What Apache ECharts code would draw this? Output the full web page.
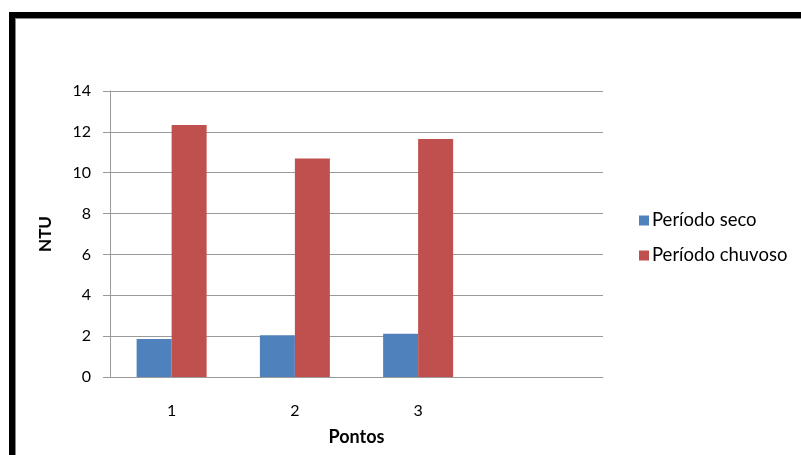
<!DOCTYPE html>
<html>
<head>
<meta charset="utf-8">
<script src="https://cdn.jsdelivr.net/npm/echarts@6/dist/echarts.min.js"></script>
<style>
html,body{margin:0;padding:0;background:#fff;}
#wrap{position:relative;width:801px;height:455px;overflow:hidden;}
#chart{position:absolute;left:0;top:0;width:801px;height:455px;}
#frame{position:absolute;left:9px;top:12px;width:900px;height:600px;border-top:6px solid #000;border-left:6px solid #000;box-shadow:inset 1px 1px 0 #888;pointer-events:none;}
</style>
</head>
<body>
<div id="wrap"><div id="chart"></div><div id="frame"></div></div>
<script>
const categories = ['1', '2', '3', ''];
const seriesNames = ['Período seco', 'Período chuvoso'];
const seco = [1.86, 2.04, 2.12, null];
const chuvoso = [12.33, 10.70, 11.65, null];
const yTicks = [0, 2, 4, 6, 8, 10, 12, 14];

const font = 'Lato, "Open Sans", "Liberation Sans", sans-serif';
const chart = echarts.init(document.getElementById('chart'));
chart.setOption({
  animation: false,
  backgroundColor: '#fff',
  grid: { left: 110, right: 198, top: 91, bottom: 78 },
  legend: {
    orient: 'vertical',
    left: 634,
    top: 206,
    itemWidth: 10,
    itemHeight: 10,
    itemGap: 16,
    icon: 'rect',
    textStyle: { fontFamily: font, fontSize: 18.5, color: '#000', padding: [0, 0, 0, -2] },
    data: seriesNames
  },
  xAxis: {
    type: 'category',
    data: categories,
    name: 'Pontos',
    nameLocation: 'middle',
    nameGap: 51,
    nameTextStyle: { fontFamily: font, fontSize: 18, fontWeight: 'bold', color: '#000' },
    axisLine: { lineStyle: { color: '#9a9a9a', width: 1 } },
    axisTick: { show: false },
    axisLabel: { fontFamily: font, fontSize: 16, color: '#000', margin: 26 }
  },
  yAxis: {
    type: 'value',
    min: yTicks[0],
    max: yTicks[yTicks.length - 1],
    interval: 2,
    name: 'NTU',
    nameLocation: 'middle',
    nameGap: 56,
    nameRotate: 90,
    nameTextStyle: { fontFamily: font, fontSize: 17, fontWeight: 'bold', color: '#000' },
    axisLine: { show: true, lineStyle: { color: '#9a9a9a', width: 1 } },
    axisTick: { show: true, length: 7, lineStyle: { color: '#9a9a9a' } },
    axisLabel: { fontFamily: font, fontSize: 16, color: '#000', margin: 19 },
    splitLine: { lineStyle: { color: '#9a9a9a', width: 1 } }
  },
  series: [
    { name: seriesNames[0], type: 'bar', data: seco, barWidth: 35, barGap: '0%',
      itemStyle: { color: '#4F81BD' } },
    { name: seriesNames[1], type: 'bar', data: chuvoso, barWidth: 35, barGap: '0%',
      itemStyle: { color: '#C0504D' } }
  ]
});
</script>
</body>
</html>
